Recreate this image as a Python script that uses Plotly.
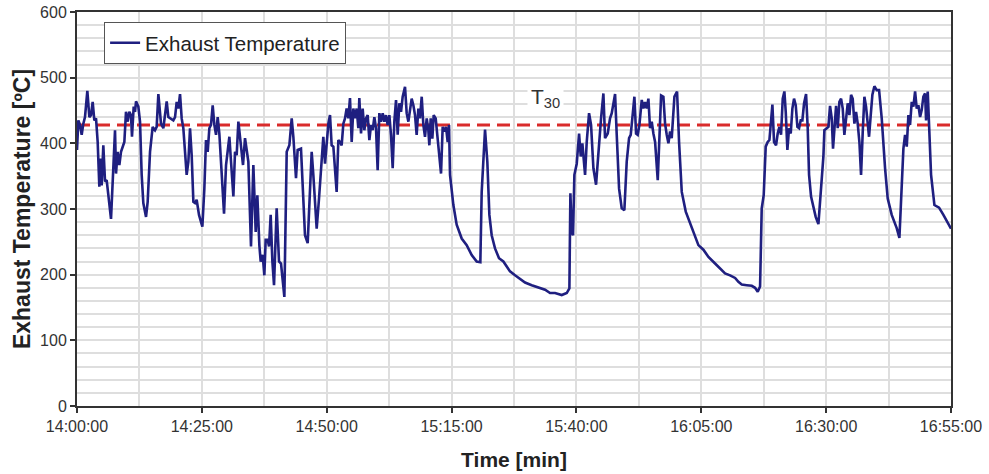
import plotly.graph_objects as go

# Minutes after 14:00:00
TIME_MIN = [
    0.0, 0.27, 0.60, 0.94, 1.27, 1.60, 2.07, 2.47, 2.80, 3.14, 3.47, 3.81, 4.14, 4.47, 4.74, 4.94,
    5.27, 5.61, 5.94, 6.81, 7.61, 7.81, 8.14, 8.48, 8.81, 9.48, 9.81, 10.15, 10.48, 10.81, 11.01,
    11.35, 11.62, 11.82, 12.28, 12.62, 12.95, 13.28, 13.82, 14.15, 14.62, 15.15, 15.62, 15.95,
    16.29, 16.82, 17.29, 17.62, 17.96, 18.29, 18.82, 19.29, 19.63, 19.96, 20.29, 20.63, 20.96,
    21.29, 21.96, 22.30, 22.63, 22.96, 23.30, 23.63, 23.96, 24.43, 25.10, 25.50, 25.83, 26.17,
    26.50, 26.83, 27.17, 27.50, 27.84, 28.17, 28.50, 28.97, 29.44, 29.84, 30.17, 30.51, 30.84,
    31.31, 31.64, 31.97, 32.31, 32.64, 32.98, 33.24, 33.64, 33.98, 34.31, 34.84, 35.31, 35.78,
    36.11, 36.51, 36.78, 37.18, 37.51, 37.78, 38.18, 38.45, 38.78, 39.12, 39.45, 39.98, 40.45,
    40.85, 41.52, 41.99, 42.52, 42.99, 43.32,
    43.85, 44.18, 44.85, 45.12, 45.65, 46.19, 46.99, 47.32, 47.66, 47.99, 48.46, 48.86, 49.32,
    49.66, 49.99, 50.33, 50.66, 50.99, 51.33, 51.66, 51.99, 52.33, 52.66, 52.99, 53.33, 53.66,
    53.99, 54.33, 54.66, 55.00, 55.33, 55.67, 56.00, 56.33, 56.53, 56.87, 57.20, 57.53, 57.87,
    58.20, 58.54, 58.87, 59.20, 59.54, 59.87, 60.20, 60.54, 60.87, 61.21, 61.54, 61.87, 62.21,
    62.54, 62.87, 63.21, 63.54, 63.88, 64.21, 64.54, 64.88, 65.21, 65.68, 66.01, 66.35, 66.68,
    67.01, 67.35, 67.68, 68.01, 68.35, 68.68, 69.02, 69.35, 69.68, 70.02, 70.35, 70.55, 70.82,
    71.15, 71.42, 71.82, 72.22, 72.55, 72.89, 73.22, 73.55, 73.89, 74.22, 74.49, 74.69, 75.36,
    76.02, 77.03, 78.03, 79.03, 80.03, 80.76, 81.03, 81.70, 82.16, 82.57, 83.03, 83.70, 84.50,
    85.37, 86.04, 86.70,
    87.71, 88.71, 89.71, 91.05, 92.38, 93.72, 94.72, 95.72, 97.06, 98.06, 98.59, 98.79, 99.06,
    99.32, 99.59, 100.06, 100.53, 100.86, 101.19, 101.46, 101.73, 102.06, 102.53, 102.93, 103.40,
    103.93, 104.40, 104.93, 105.40, 105.73, 106.27, 106.73, 107.07, 107.40, 107.74, 108.07,
    108.54, 109.07, 109.60, 110.07, 110.54, 110.87, 111.21, 111.61, 111.94, 112.27, 112.61,
    113.08, 113.41, 113.74, 114.08, 114.41, 114.74, 115.08, 115.41, 115.75, 116.28, 116.61,
    116.95, 117.41, 117.75, 118.08, 118.42, 118.75, 119.08, 119.62, 120.15, 120.55, 121.09,
    121.89, 122.55, 123.42, 124.42, 125.42, 126.43, 127.76, 128.76, 129.76, 130.76, 131.77,
    132.43, 133.10, 134.10, 135.10, 135.77, 136.30, 136.77, 137.10, 137.50, 137.90, 138.30,
    138.64, 138.90, 139.24, 139.57, 139.97, 140.30, 140.64, 140.97, 141.31, 141.64, 141.91,
    142.24, 142.57, 142.91, 143.24, 143.57, 143.91, 144.24, 144.58, 144.91, 145.24, 145.58,
    145.98, 146.31, 146.58, 146.98, 147.45, 147.91, 148.45, 148.78, 149.12, 149.45, 149.65,
    150.12, 150.45, 150.78, 151.12, 151.38, 151.65, 151.99, 152.32, 152.65, 152.99, 153.32,
    153.65, 153.99, 154.32, 154.66, 154.99, 155.32, 155.66, 155.99, 156.32, 156.66, 156.99,
    157.33, 157.66, 157.99, 158.33, 158.59, 158.93, 159.26, 159.66, 160.13, 160.60, 161.13,
    161.80, 162.33, 163.13, 164.13, 164.67, 165.14, 165.47, 165.80, 166.14, 166.47, 166.80,
    167.14, 167.47, 167.81, 168.14, 168.47, 168.81, 169.14, 169.47, 169.81, 170.01, 170.34,
    170.61, 171.01, 171.68, 172.61, 173.48, 174.48, 175.0,
]

# Exhaust temperature [ºC]
TEMP_C = [
    390, 435, 428, 413, 430, 440, 480, 440, 443, 463, 435, 438, 402, 334, 377, 336,
    397, 342, 344, 285, 420, 354, 387, 367, 387, 402, 448, 433, 448, 443, 410,
    456, 448, 464, 456, 433, 352, 309, 288, 311, 387, 425, 420, 425,
    475, 430, 423, 440, 464, 440, 438, 435, 440, 463, 453, 475, 438,
    423, 352, 372, 423, 382, 311, 309, 314, 291, 273, 331, 405, 387,
    423, 428, 458, 428, 413, 440, 415, 347, 293, 367, 387, 410, 372,
    319, 387, 382, 433, 410, 392, 367, 408, 392, 372, 243, 367, 265,
    321, 245, 220, 230, 199, 253, 253, 243, 291, 220, 184, 301, 220,
    217, 166, 387, 397, 438, 410,
    347, 390, 392, 342, 260, 248, 387, 352, 311, 270, 316, 367, 410,
    369, 397, 430, 443, 397, 395, 352, 326, 405, 402, 397, 430, 438,
    453, 438, 469, 402, 453, 438, 453, 423, 469, 415, 453, 420, 438,
    443, 405, 428, 420, 440, 423, 359, 446, 433, 446, 433, 443, 428,
    443, 413, 362, 433, 466, 413, 461, 448, 471, 486, 446, 433, 453,
    468, 458, 443, 413, 453, 438, 471, 428, 410, 438, 420, 397, 438,
    407, 443, 438, 402, 377, 354, 425, 418, 425, 402, 428, 352, 306,
    276, 255, 245, 230, 220, 219, 326, 421, 372, 291, 260, 240, 225,
    220, 212, 205,
    199, 194, 188, 184, 181, 177, 172, 172, 169, 172, 179, 324, 265,
    260, 352, 369, 415, 380, 400, 377, 352, 402, 446, 428, 362,
    337, 387, 438, 476, 408, 415, 438, 446, 458, 475, 413,
    331, 301, 298, 372, 408, 413, 438, 471, 415, 413, 428,
    466, 453, 463, 453, 468, 423, 433, 415, 402, 344, 418,
    473, 471, 430, 413, 400, 418, 408, 471, 479, 402, 326,
    296, 283, 265, 245, 238, 227, 217, 210, 202, 199, 195,
    189, 185, 184, 183, 180, 174, 182, 301, 321, 395, 402,
    405, 428, 459, 402, 397, 415, 425, 413, 468, 479, 448,
    390, 423, 415, 453, 468, 458, 425, 423, 435, 435, 461,
    475, 423, 352, 319, 303, 288, 277, 311, 352, 380, 420,
    423, 425, 457, 438, 392, 423, 457, 423, 463, 468, 453,
    413, 443, 461, 443, 474, 468, 430, 448, 430, 402, 352,
    418, 471, 456, 435, 410, 443, 474, 487, 481, 481, 438,
    362, 316, 291, 271, 256, 331, 392, 413, 395, 443, 428,
    463, 456, 479, 453, 458, 440, 451, 471, 476, 435, 479,
    433, 352, 306, 302, 291, 278, 270,
]

T30 = 428
T30_SPAN = [0, 175]
T30_LABEL_POS = (93.8, 469)

X_TICK_VALS = [0, 25, 50, 75, 100, 125, 150, 175]
X_TICK_TEXT = ["14:00:00", "14:25:00", "14:50:00", "15:15:00",
               "15:40:00", "16:05:00", "16:30:00", "16:55:00"]

FONT = "Liberation Sans, Arial, sans-serif"

fig = go.Figure()
fig.add_trace(go.Scatter(
    x=T30_SPAN, y=[T30, T30], mode="lines",
    line=dict(color="#d92b2b", width=3, dash="13px,7px"),
    showlegend=False, hoverinfo="skip",
))
fig.add_trace(go.Scatter(
    x=TIME_MIN, y=TEMP_C, mode="lines", name="Exhaust Temperature",
    line=dict(color="#1f1f80", width=2.6),
))

fig.add_annotation(
    x=T30_LABEL_POS[0], y=T30_LABEL_POS[1], text="T<sub>30</sub>",
    showarrow=False, bgcolor="white", borderpad=3,
    font=dict(family=FONT, size=21, color="#333"),
)

fig.update_layout(
    width=989, height=474,
    margin=dict(l=77, r=38, t=12, b=68, autoexpand=False),
    paper_bgcolor="white", plot_bgcolor="white",
    font=dict(family=FONT, color="#333"),
    legend=dict(
        x=0.031, y=0.975, xanchor="left", yanchor="top",
        bordercolor="#555", borderwidth=1, bgcolor="white",
        font=dict(family=FONT, size=20.5, color="#222"),
        tracegroupgap=0,
    ),
)

fig.update_xaxes(
    range=[0, 175],
    tickmode="array", tickvals=X_TICK_VALS, ticktext=X_TICK_TEXT,
    ticks="outside", ticklen=5, tickcolor="#333", tickwidth=1.5,
    tickfont=dict(size=16, color="#333"),
    showgrid=True, gridcolor="#dedede", gridwidth=1.5,
    minor=dict(tickmode="linear", tick0=0, dtick=12.5, showgrid=True,
               gridcolor="#dedede", gridwidth=1.5),
    showline=True, linecolor="#333", linewidth=2, mirror=True,
    zeroline=False,
    title=dict(text="<b>Time [min]</b>", font=dict(size=21, color="#222"), standoff=18),
)
fig.update_yaxes(
    range=[0, 600], dtick=100, tick0=0,
    ticks="outside", ticklen=5, tickcolor="#333", tickwidth=1.5,
    tickfont=dict(size=16, color="#333"),
    showgrid=True, gridcolor="#dedede", gridwidth=1.5,
    minor=dict(dtick=20, showgrid=True, gridcolor="#dedede", gridwidth=1.5),
    showline=True, linecolor="#333", linewidth=2, mirror=True,
    zeroline=False,
    title=dict(text="<b>Exhaust Temperature [ºC]</b>", font=dict(size=23, color="#222"), standoff=3),
)

fig.write_html("out.html", config={"displayModeBar": False},
               post_script="document.body.style.margin='0';")
